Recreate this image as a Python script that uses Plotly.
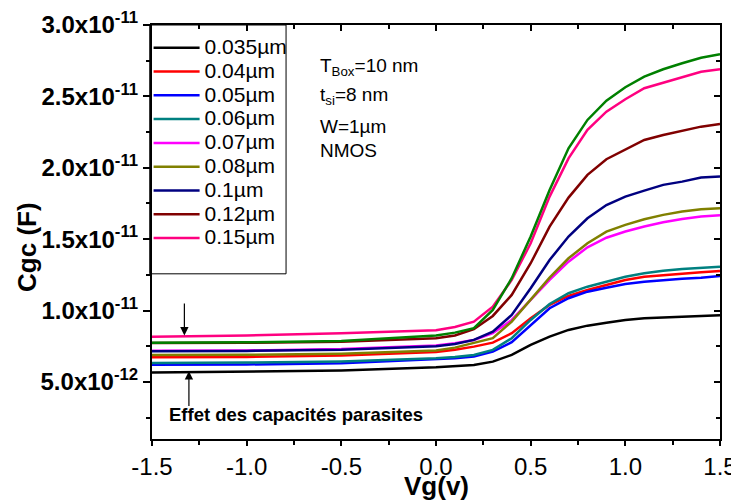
import plotly.graph_objects as go

vg = [-1.5, -1.0, -0.5, 0.0, 0.1, 0.2, 0.3, 0.4, 0.5, 0.6, 0.7, 0.8, 0.9, 1.0, 1.1, 1.2, 1.3, 1.4, 1.5]

# values in units of 1e-12 F
c_0035 = [5.65, 5.70, 5.80, 6.02, 6.08, 6.19, 6.42, 6.89, 7.59, 8.17, 8.64, 8.94, 9.15, 9.34, 9.46, 9.53, 9.57, 9.62, 9.67]
c_004 = [6.73, 6.75, 6.85, 7.10, 7.25, 7.47, 7.75, 8.41, 9.46, 10.39, 11.02, 11.44, 11.79, 12.14, 12.37, 12.49, 12.61, 12.68, 12.77]
c_005 = [6.20, 6.22, 6.30, 6.55, 6.65, 6.77, 7.12, 7.78, 8.99, 10.16, 10.86, 11.32, 11.60, 11.86, 12.02, 12.14, 12.23, 12.30, 12.42]
c_006 = [6.33, 6.35, 6.43, 6.65, 6.75, 6.89, 7.24, 8.06, 9.34, 10.46, 11.21, 11.67, 12.02, 12.37, 12.61, 12.79, 12.91, 13.00, 13.07]
c_007 = [7.19, 7.20, 7.30, 7.55, 7.70, 7.94, 8.41, 9.34, 10.74, 12.14, 13.42, 14.43, 15.10, 15.53, 15.88, 16.18, 16.41, 16.58, 16.67]
c_008 = [6.89, 6.90, 6.98, 7.20, 7.40, 7.71, 8.06, 9.22, 10.74, 12.30, 13.66, 14.71, 15.53, 16.00, 16.39, 16.70, 16.93, 17.09, 17.16]
c_010 = [7.15, 7.17, 7.25, 7.50, 7.65, 7.94, 8.52, 9.69, 11.56, 13.54, 15.18, 16.46, 17.39, 17.98, 18.40, 18.80, 19.03, 19.31, 19.38]
c_012 = [7.72, 7.74, 7.82, 8.05, 8.25, 8.69, 9.62, 11.09, 13.31, 15.88, 17.91, 19.50, 20.60, 21.30, 21.95, 22.30, 22.60, 22.88, 23.07]
c_015 = [8.17, 8.25, 8.40, 8.62, 8.85, 9.22, 10.27, 12.14, 14.71, 17.98, 20.66, 22.65, 23.93, 24.80, 25.57, 25.96, 26.34, 26.73, 26.90]
c_green = [7.75, 7.77, 7.86, 8.25, 8.45, 8.76, 10.04, 12.26, 15.18, 18.44, 21.36, 23.35, 24.70, 25.64, 26.38, 26.90, 27.32, 27.71, 27.95]

labels = ["0.035µm", "0.04µm", "0.05µm", "0.06µm", "0.07µm", "0.08µm", "0.1µm", "0.12µm", "0.15µm"]
series = [c_0035, c_004, c_005, c_006, c_007, c_008, c_010, c_012, c_015]
colors = ["#000000", "#FF0000", "#0000FF", "#008080", "#FF00FF", "#808000", "#000080", "#800000", "#FF0080"]

ytick_vals = [5e-12, 1e-11, 1.5e-11, 2e-11, 2.5e-11, 3e-11]
ytick_text = ["5.0x10<sup>-12</sup>", "1.0x10<sup>-11</sup>", "1.5x10<sup>-11</sup>",
              "2.0x10<sup>-11</sup>", "2.5x10<sup>-11</sup>", "3.0x10<sup>-11</sup>"]
ytick_minor = [2.5e-12, 7.5e-12, 1.25e-11, 1.75e-11, 2.25e-11, 2.75e-11]
xtick_vals = [-1.5, -1.0, -0.5, 0.0, 0.5, 1.0, 1.5]
xtick_text = ["-1.5", "-1.0", "-0.5", "0.0", "0.5", "1.0", "1.5"]

fig = go.Figure()
for name, vals, col in zip(labels, series, colors):
    fig.add_trace(go.Scatter(x=vg, y=[v * 1e-12 for v in vals], mode="lines",
                             name=f'<span style="font-size:21px">{name}</span>',
                             line=dict(color=col, width=2.5)))
fig.add_trace(go.Scatter(x=vg, y=[v * 1e-12 for v in c_green], mode="lines", name="",
                         showlegend=False, line=dict(color="#008000", width=2.5)))
# dummy trace for mirrored (inside-tick) axes
fig.add_trace(go.Scatter(x=[-1.5], y=[1e-12], xaxis="x2", yaxis="y2", mode="markers",
                         marker=dict(opacity=0), showlegend=False, hoverinfo="skip"))

fig.update_layout(
    width=731, height=496,
    margin=dict(l=144, r=19, t=17, b=65),
    paper_bgcolor="white", plot_bgcolor="white",
    font=dict(family="Arial, Liberation Sans, sans-serif", color="black"),
    showlegend=True,
    legend=dict(x=-0.006, y=0.986, xanchor="left", yanchor="top",
                borderwidth=0, bgcolor="rgba(0,0,0,0)",
                font=dict(size=16), tracegroupgap=0, itemwidth=46),
    xaxis=dict(range=[-1.5, 1.5], tickvals=xtick_vals, ticktext=xtick_text, automargin=False,
               showgrid=False, zeroline=False, showline=True, linecolor="black", linewidth=2,
               ticks="outside", ticklen=5, tickwidth=2, tickcolor="black",
               tickfont=dict(size=24),
               minor=dict(dtick=0.25, ticks="outside", ticklen=4, tickwidth=2, tickcolor="black")),
    yaxis=dict(range=[1e-12, 3e-11], tickvals=ytick_vals, ticktext=ytick_text, automargin=False,
               showgrid=False, zeroline=False, showline=True, linecolor="black", linewidth=2,
               ticks="outside", ticklen=7, tickwidth=2, tickcolor="black",
               tickfont=dict(size=24, weight="bold"),
               minor=dict(tickvals=ytick_minor, ticks="outside", ticklen=4, tickwidth=2,
                          tickcolor="black")),
    xaxis2=dict(overlaying="x", side="top", range=[-1.5, 1.5], tickvals=xtick_vals,
                showticklabels=False, showgrid=False, zeroline=False, showline=True,
                automargin=False,
                linecolor="black", linewidth=2, ticks="inside", ticklen=6, tickwidth=2,
                tickcolor="black",
                minor=dict(dtick=0.25, ticks="inside", ticklen=4, tickwidth=2, tickcolor="black")),
    yaxis2=dict(overlaying="y", side="right", range=[1e-12, 3e-11], tickvals=ytick_vals,
                showticklabels=False, showgrid=False, zeroline=False, showline=True,
                automargin=False,
                linecolor="black", linewidth=2, ticks="inside", ticklen=6, tickwidth=2,
                tickcolor="black",
                minor=dict(tickvals=ytick_minor, ticks="inside", ticklen=4, tickwidth=2,
                           tickcolor="black")),
)

# legend frame (taller than the entries, as in the reference)
fig.add_shape(type="rect", xref="paper", yref="paper", x0=-0.004, x1=0.236, y0=0.399, y1=1.0,
              line=dict(color="black", width=1), fillcolor="white", layer="below")

# axis titles
fig.add_annotation(text="<b>Vg(v)</b>", xref="paper", yref="paper", x=0.5, y=0,
                   yshift=-47, xanchor="center", yanchor="middle", showarrow=False,
                   font=dict(size=26, color="black"))
fig.add_annotation(text="<b>Cgc (F)</b>", xref="paper", yref="paper", x=0, y=0.464,
                   xshift=-125, xanchor="center", yanchor="middle", showarrow=False,
                   textangle=-90, font=dict(size=26, color="black"))

info_lines = ["T<sub>Box</sub>=10 nm", "t<sub>si</sub>=8 nm", "W=1µm", "NMOS"]
info_y = [0.899, 0.829, 0.754, 0.698]
for txt, yy in zip(info_lines, info_y):
    fig.add_annotation(text=txt, xref="paper", yref="paper", x=0.292, y=yy,
                       xanchor="left", yanchor="middle", showarrow=False,
                       font=dict(size=19, color="black"))

fig.add_annotation(text="<b>Effet des capacités parasites</b>", xref="paper", yref="paper",
                   x=0.026, y=0.060, xanchor="left", yanchor="middle", showarrow=False,
                   font=dict(size=18.5, color="black"))
# arrows
fig.add_annotation(x=-1.329, y=8.25e-12, ax=-1.329, ay=1.06e-11, xref="x", yref="y",
                   axref="x", ayref="y", text="", showarrow=True, arrowhead=2,
                   arrowsize=1.4, arrowwidth=1.2, arrowcolor="black")
fig.add_annotation(x=-1.305, y=5.75e-12, ax=-1.305, ay=3.2e-12, xref="x", yref="y",
                   axref="x", ayref="y", text="", showarrow=True, arrowhead=2,
                   arrowsize=1.4, arrowwidth=1.2, arrowcolor="black")

fig.write_html("out.html")
